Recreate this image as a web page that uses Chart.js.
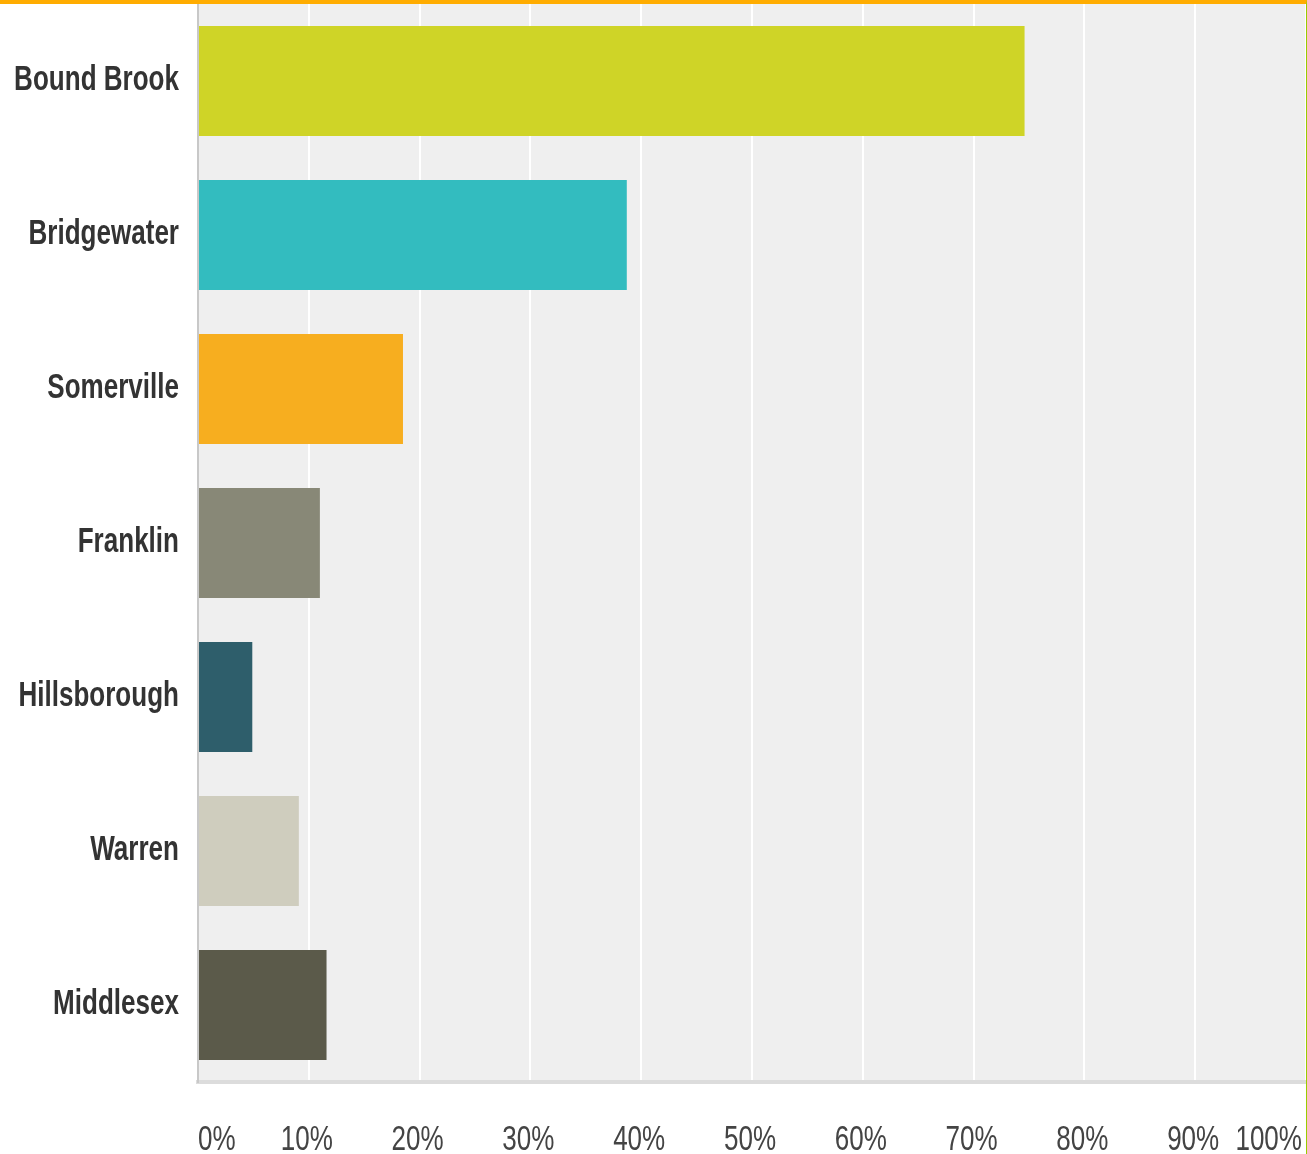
<!DOCTYPE html>
<html lang="en">
<head>
  <meta charset="UTF-8" />
  <title>Town responses</title>
  <script src="https://cdn.jsdelivr.net/npm/chart.js"></script>
  <style>
    body {
      margin: 0;
      background: #ffffff;
    }
    .frame {
      width: 1306px;
      height: 1150px;
      border-top: 4px solid #ffac00;
      border-right: 1px solid #99cc00;
      position: relative;
    }
  </style>
</head>
<body>

<div class="frame">
  <canvas id="townChart"></canvas>
</div>

<script>
  // Share of respondents per town (percent)
  const towns = ['Bound Brook', 'Bridgewater', 'Somerville', 'Franklin', 'Hillsborough', 'Warren', 'Middlesex'];
  const shares = [74.6, 38.7, 18.5, 11.0, 4.9, 9.1, 11.6];
  const barColors = ['#cfd427', '#33bcbf', '#f7ae1f', '#888877', '#2e5e6b', '#cfcdbe', '#5b5a4a'];
  const tickValues = [0, 10, 20, 30, 40, 50, 60, 70, 80, 90, 100];

  const labelFont = "'Liberation Sans', Arial, sans-serif";
  // narrow look: squeeze the glyphs sideways, stretch them a little upwards
  const squeezeX = 0.84;
  const stretchY = 1.12;

  // grey plot background behind the bars
  const plotBackground = {
    id: 'plotBackground',
    beforeDraw(chart) {
      const { ctx, chartArea } = chart;
      ctx.save();
      ctx.fillStyle = '#efefef';
      ctx.fillRect(chartArea.left, chartArea.top, chartArea.right - chartArea.left, chartArea.bottom - chartArea.top);
      ctx.restore();
    }
  };

  function drawNarrow(ctx, text, x, y, align) {
    ctx.save();
    ctx.translate(x, y);
    ctx.scale(squeezeX, stretchY);
    ctx.textAlign = align;
    ctx.textBaseline = 'alphabetic';
    ctx.fillText(text, 0, 0);
    ctx.restore();
  }

  // axis labels drawn by hand so they can use the condensed look
  const narrowLabels = {
    id: 'narrowLabels',
    afterDraw(chart) {
      const { ctx } = chart;
      const xs = chart.scales.x;
      const ys = chart.scales.y;

      ctx.save();
      ctx.font = 'bold 31px ' + labelFont;
      ctx.fillStyle = '#333333';
      ys.ticks.forEach((t, i) => {
        drawNarrow(ctx, towns[i], ys.right - 19, ys.getPixelForTick(i) + 9, 'right');
      });

      ctx.font = '31px ' + labelFont;
      ctx.fillStyle = '#444444';
      const last = xs.ticks.length - 1;
      xs.ticks.forEach((t, i) => {
        let align = 'center';
        let shift = -2;
        if (i === 0) { align = 'left'; shift = 0; }
        if (i === last) { align = 'right'; shift = -4; }
        drawNarrow(ctx, t.value + '%', xs.getPixelForValue(t.value) + shift, xs.top + 68, align);
      });
      ctx.restore();
    }
  };

  function noPadding(scale) {
    scale.paddingTop = 0;
    scale.paddingBottom = 0;
    scale.paddingLeft = 0;
    scale.paddingRight = 0;
  }

  new Chart(document.getElementById('townChart'), {
    type: 'bar',
    data: {
      labels: towns,
      datasets: [{
        data: shares,
        backgroundColor: barColors,
        borderWidth: 0,
        categoryPercentage: 1,
        barPercentage: 0.714
      }]
    },
    plugins: [plotBackground, narrowLabels],
    options: {
      indexAxis: 'y',
      responsive: true,
      maintainAspectRatio: false,
      animation: false,
      layout: { padding: 0 },
      plugins: {
        legend: { display: false },
        tooltip: { enabled: false }
      },
      scales: {
        x: {
          min: 0,
          max: 100,
          afterBuildTicks(scale) {
            scale.ticks = tickValues.map(v => ({ value: v }));
          },
          afterFit(scale) {
            scale.height = 72;
            noPadding(scale);
          },
          grid: {
            color: '#ffffff',
            lineWidth: 2,
            drawTicks: false
          },
          border: {
            display: true,
            color: '#dcdcdc',
            width: 4
          },
          ticks: {
            color: 'rgba(0,0,0,0)',
            font: { size: 12 },
            callback: v => v + '%'
          }
        },
        y: {
          afterFit(scale) {
            scale.width = 198;
            noPadding(scale);
          },
          grid: { display: false, drawTicks: false },
          border: {
            display: true,
            color: '#c8c8c8',
            width: 2
          },
          ticks: {
            color: 'rgba(0,0,0,0)',
            font: { size: 12 }
          }
        }
      }
    }
  });
</script>

</body>
</html>
